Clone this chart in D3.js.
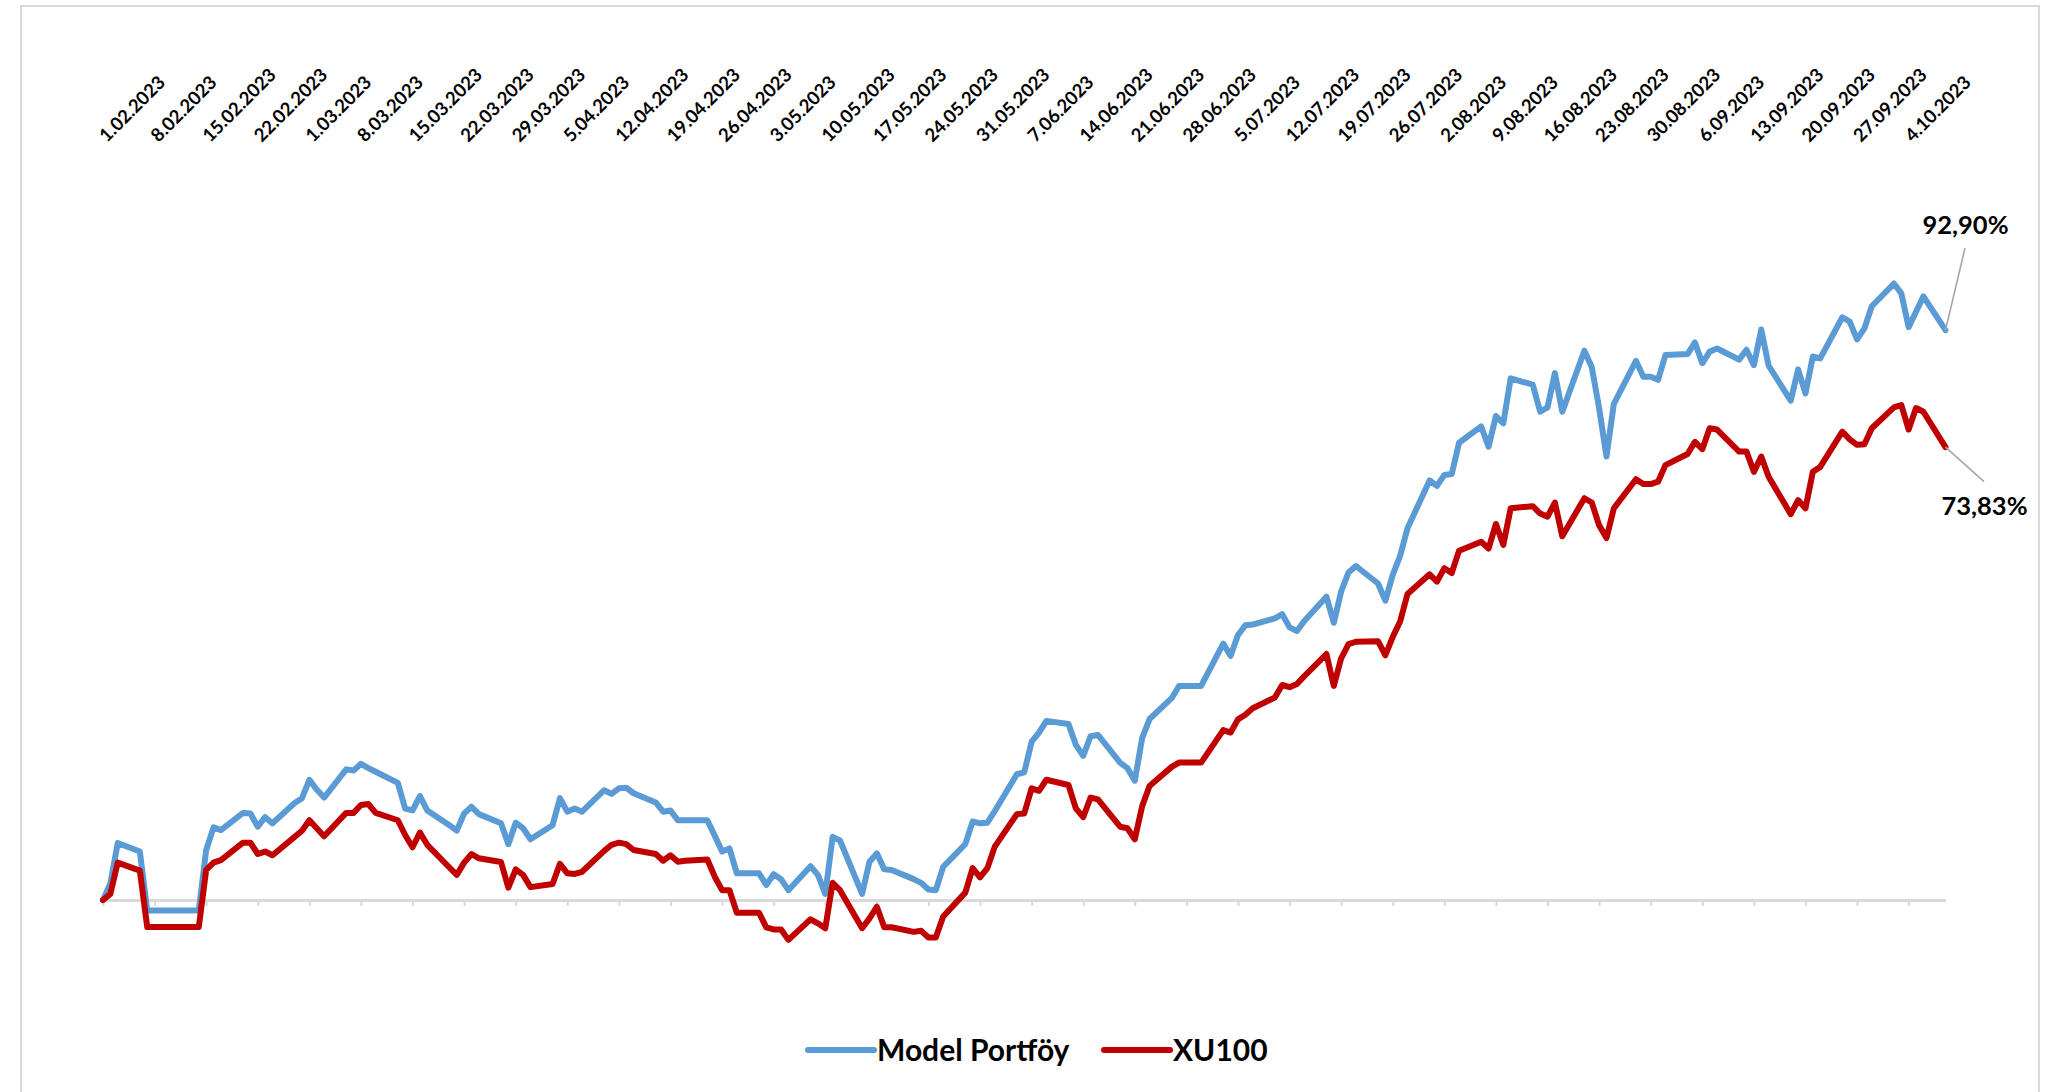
<!DOCTYPE html>
<html>
<head>
<meta charset="utf-8">
<script src="https://cdn.jsdelivr.net/npm/d3@7"></script>
<style>
  body { margin: 0; background: #fff; }
  svg { display: block; }
</style>
</head>
<body>
<svg id="chart" width="2071" height="1092"></svg>
<script>
// ----- data (cumulative return, %) -----
const startDay = "2023-02-01";
const endDay = "2023-10-09";

const tickLabels = [
  "1.02.2023", "8.02.2023", "15.02.2023", "22.02.2023", "1.03.2023", "8.03.2023",
  "15.03.2023", "22.03.2023", "29.03.2023", "5.04.2023", "12.04.2023", "19.04.2023",
  "26.04.2023", "3.05.2023", "10.05.2023", "17.05.2023", "24.05.2023", "31.05.2023",
  "7.06.2023", "14.06.2023", "21.06.2023", "28.06.2023", "5.07.2023", "12.07.2023",
  "19.07.2023", "26.07.2023", "2.08.2023", "9.08.2023", "16.08.2023", "23.08.2023",
  "30.08.2023", "6.09.2023", "13.09.2023", "20.09.2023", "27.09.2023", "4.10.2023"
];

// one value per weekday, rows = weeks (Mon..Fri)
const modelPortfoy = [
  0, 2.7, 9.3,
  7.9, -1.7, -1.7, -1.7, -1.7,
  -1.7, -1.7, 8.15, 11.85, 11.4,
  14.2, 14.1, 11.95, 13.5, 12.5,
  15.8, 16.6, 19.6, 18.0, 16.7,
  21.3, 21.1, 22.2, 21.5, 20.9,
  19.1, 14.9, 14.6, 16.95, 14.6,
  12.2, 11.3, 14.1, 15.2, 14.0,
  12.5, 9.1, 12.6, 11.7, 9.9,
  12.2, 16.6, 14.4, 14.9, 14.4,
  17.9, 17.3, 18.2, 18.3, 17.4,
  15.9, 14.4, 14.6, 13.0, 13.0,
  13.0, 10.5, 7.9, 8.4, 4.35,
  4.35, 2.45, 4.2, 3.4, 1.6,
  5.5, 4.1, 1.0, 10.3, 9.7,
  1.0, 6.25, 7.6, 5.0, 4.9,
  3.4, 2.8, 1.7, 1.6, 5.4,
  9.1, 12.8, 12.5, 12.6, 14.5,
  20.5, 20.8, 25.8, 27.3, 29.2,
  28.7, 25.3, 23.5, 26.7, 26.9,
  22.4, 21.5, 19.45, 26.4, 29.5,
  32.9, 34.9, 34.9, 34.9, 34.9,
  41.8, 39.8, 43.2, 44.8, 44.9,
  45.9, 46.6, 44.45, 43.85, 45.5,
  49.45, 45.2, 50.3, 53.4, 54.45,
  51.6, 48.8, 53.0, 56.1, 60.6,
  68.4, 67.5, 69.3, 69.45, 74.55,
  77.2, 73.9, 78.9, 77.7, 85.05,
  84.0, 79.6, 80.3, 85.9, 79.6,
  89.55, 86.9, 80.2, 72.3, 80.9,
  87.9, 85.3, 85.3, 84.8, 88.85,
  89.0, 90.9, 87.5, 89.4, 89.9,
  88.1, 89.7, 87.2, 93.0, 87.1,
  81.4, 86.5, 82.6, 88.6, 88.3,
  95.0, 94.3, 91.4, 93.2, 96.8,
  100.5, 98.9, 93.4, 95.9, 98.4,
  92.90
];

const xu100 = [
  0, 1.0, 6.1,
  4.8, -4.4, -4.4, -4.4, -4.4,
  -4.4, -4.4, 4.9, 6.1, 6.5,
  9.35, 9.35, 7.5, 7.9, 7.3,
  10.3, 11.3, 13.0, 11.7, 10.4,
  14.2, 14.2, 15.5, 15.65, 14.2,
  13.0, 10.6, 8.6, 11.0, 9.0,
  5.3, 4.1, 6.1, 7.5, 6.8,
  6.2, 2.0, 5.0, 4.1, 2.1,
  2.6, 5.9, 4.35, 4.25, 4.6,
  8.0, 9.0, 9.35, 9.1, 8.15,
  7.5, 6.4, 7.3, 6.25, 6.4,
  6.6, 3.8, 1.6, 1.6, -2.07,
  -2.07, -4.45, -4.8, -4.8, -6.5,
  -3.15, -3.8, -4.6, 2.8, 1.6,
  -4.6, -3.0, -1.1, -4.45, -4.45,
  -5.2, -5.0, -6.1, -6.1, -2.7,
  1.2, 5.2, 3.7, 5.2, 8.7,
  14.0, 14.1, 18.2, 17.8, 19.6,
  18.75, 14.95, 13.5, 16.7, 16.4,
  11.95, 11.7, 9.9, 15.3, 18.6,
  21.7, 22.4, 22.4, 22.4, 22.4,
  27.7, 27.3, 29.45, 30.2, 31.25,
  33.0, 35.05, 34.7, 35.2, 36.5,
  40.1, 34.9, 39.4, 41.7, 42.1,
  42.2, 39.9, 42.9, 45.4, 49.9,
  53.1, 51.9, 54.1, 53.3, 56.95,
  58.4, 57.3, 61.3, 57.9, 63.85,
  64.2, 63.0, 62.5, 64.8, 59.3,
  65.5, 64.8, 61.1, 59.0, 63.85,
  68.6, 67.8, 67.8, 68.2, 70.9,
  72.7, 74.7, 73.5, 76.9, 76.7,
  73.1, 73.1, 69.8, 72.3, 69.0,
  62.9, 65.2, 63.85, 69.8, 70.6,
  76.35, 75.1, 74.2, 74.3, 76.9,
  80.3, 80.7, 76.7, 80.2, 79.6,
  73.83
];

const seriesNames = ["Model Portföy", "XU100"];
const seriesColors = ["#5b9bd5", "#c00000"];

// ----- setup -----
const svg = d3.select("#chart");

const parseIso = d3.utcParse("%Y-%m-%d");
const parseTick = d3.utcParse("%d.%m.%Y");

// weekdays between start and end (the value rows above follow these)
const dates = d3.utcDay.range(parseIso(startDay), d3.utcDay.offset(parseIso(endDay), 1))
    .filter(d => d.getUTCDay() !== 0 && d.getUTCDay() !== 6);

const series = [modelPortfoy, xu100].map((vals, i) => ({
  name: seriesNames[i],
  color: seriesColors[i],
  points: vals.map((v, j) => ({ date: dates[j], value: v }))
}));

const x = d3.scaleUtc()
    .domain([parseIso(startDay), parseIso(endDay)])
    .range([103, 1945.5]);

const y = d3.scaleLinear()
    .domain([-10, 100])
    .range([900 + 61.34, 900 - 613.4]);

const trFormat = d3.formatLocale({ decimal: ",", thousands: ".", grouping: [3], currency: ["", ""] }).format(".2f");

// outer chart border
svg.append("rect")
    .attr("x", 21).attr("y", 6)
    .attr("width", 2018).attr("height", 1095)
    .attr("fill", "#fff")
    .attr("stroke", "#d9d9d9")
    .attr("stroke-width", 2);

// zero axis with weekly tick marks
const tickDates = tickLabels.map(parseTick);
const gAxis = svg.append("g")
    .attr("transform", `translate(0,${y(0)})`)
    .call(d3.axisBottom(x).tickValues(tickDates).tickSize(6).tickSizeOuter(0).tickFormat(""));
gAxis.select(".domain")
    .attr("stroke", "#d9d9d9")
    .attr("stroke-width", 3);
gAxis.selectAll(".tick line")
    .attr("stroke", "#d9d9d9")
    .attr("stroke-width", 2);

// rotated date labels on top
svg.append("g")
    .selectAll("text")
    .data(tickDates)
    .join("text")
    .attr("transform", (d) => `translate(${x(d) + 4},143) rotate(-45)`)
    .attr("font-family", "Lato, 'Open Sans', sans-serif")
    .attr("font-weight", 700)
    .attr("font-size", 18.5)
    .attr("fill", "#000")
    .text((d, i) => tickLabels[i]);

// lines
const line = d3.line()
    .x(d => x(d.date))
    .y(d => y(d.value));

svg.append("g")
    .selectAll("path")
    .data(series)
    .join("path")
    .attr("d", d => line(d.points))
    .attr("fill", "none")
    .attr("stroke", d => d.color)
    .attr("stroke-width", 6)
    .attr("stroke-linejoin", "round")
    .attr("stroke-linecap", "round");

// end value labels with leader lines
const endOffsets = [
  { lx: 19.5, ly: -82, tx: -23, ty: -96 },
  { lx: 38.5, ly: 34.5, tx: -4, ty: 68 }
];
series.forEach((s, i) => {
  const last = s.points[s.points.length - 1];
  const px = x(last.date), py = y(last.value);
  const o = endOffsets[i];
  svg.append("line")
      .attr("x1", px).attr("y1", py)
      .attr("x2", px + o.lx).attr("y2", py + o.ly)
      .attr("stroke", "#a6a6a6")
      .attr("stroke-width", 1.6);
  svg.append("text")
      .attr("x", px + o.tx).attr("y", py + o.ty)
      .attr("font-family", "Lato, 'Open Sans', sans-serif")
      .attr("font-weight", 700)
      .attr("font-size", 25.5)
      .attr("fill", "#000")
      .text(trFormat(last.value) + "%");
});

// legend
const legendItems = [
  { x: 808, name: seriesNames[0], color: seriesColors[0] },
  { x: 1104, name: seriesNames[1], color: seriesColors[1] }
];
const gLegend = svg.append("g").attr("transform", "translate(0,1050)");
legendItems.forEach(it => {
  gLegend.append("line")
      .attr("x1", it.x).attr("x2", it.x + 66)
      .attr("y1", 0).attr("y2", 0)
      .attr("stroke", it.color)
      .attr("stroke-width", 6)
      .attr("stroke-linecap", "round");
  gLegend.append("text")
      .attr("x", it.x + 69).attr("y", 10.5)
      .attr("font-family", "Lato, 'Open Sans', sans-serif")
      .attr("font-weight", 700)
      .attr("font-size", 30)
      .attr("fill", "#000")
      .text(it.name);
});
</script>
</body>
</html>
